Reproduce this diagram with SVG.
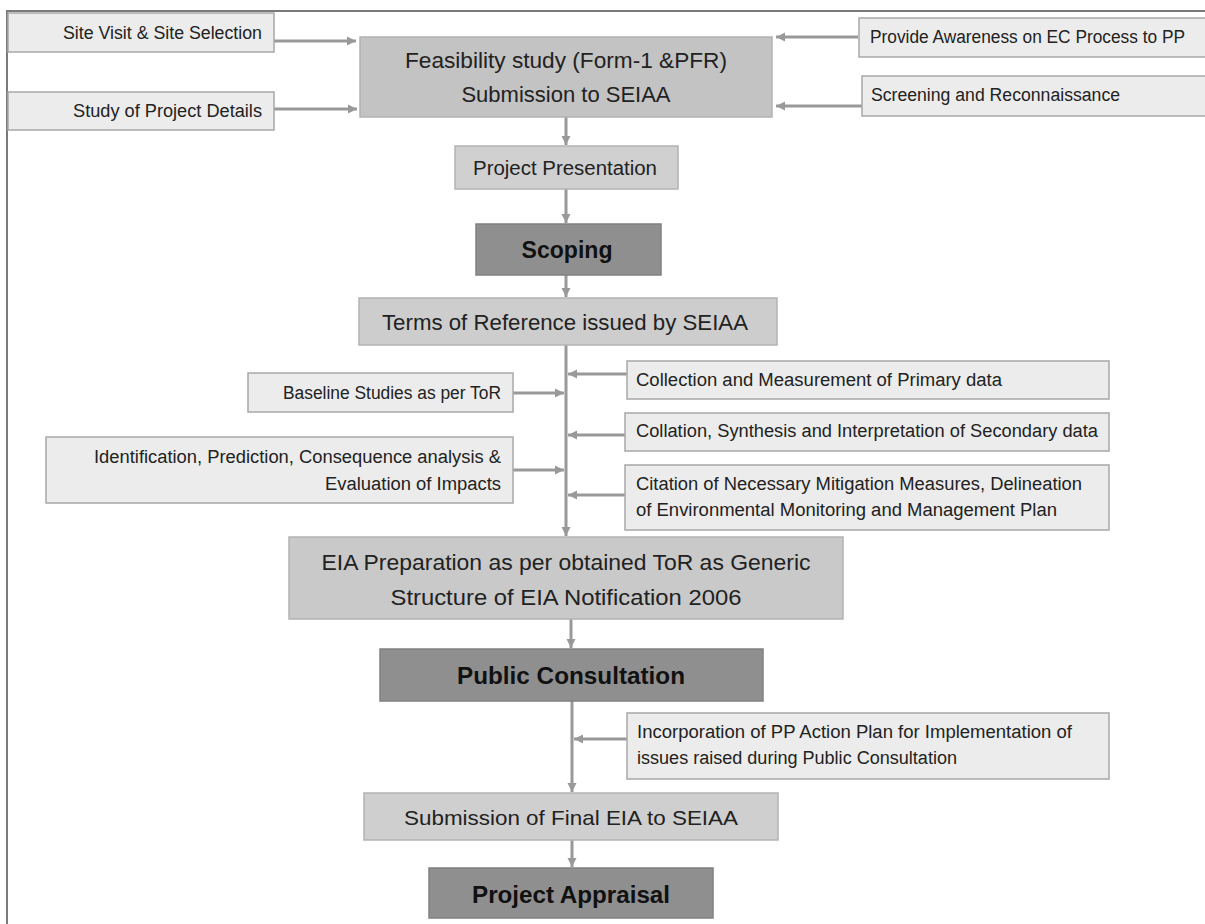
<svg xmlns="http://www.w3.org/2000/svg" width="1205" height="924" viewBox="0 0 1205 924">
<style>
.side{fill:#ececec;stroke:#a8a8a8;stroke-width:1.5}
.mid{fill:#c9c9c9;stroke:#b3b3b3;stroke-width:1.5}
.dark{fill:#8f8f8f;stroke:#808080;stroke-width:1.5}
text{font-family:"Liberation Sans",Arial,sans-serif;fill:#222}
.s{font-size:18px}
.m{font-size:22px}
.b{font-size:23px;font-weight:bold;fill:#111}
.c{text-anchor:middle}
.r{text-anchor:end}
.conn line{stroke:#999;stroke-width:3;marker-end:url(#ah)}
</style>
<defs>
<marker id="ah" markerUnits="userSpaceOnUse" markerWidth="10" markerHeight="10" refX="9" refY="5" orient="auto">
<path d="M0,0.5 L9,5 L0,9.5 z" fill="#999"/>
</marker>
</defs>
<rect width="1205" height="924" fill="#ffffff"/>
<path d="M7,924 V11 H1205" fill="none" stroke="#7a7a7a" stroke-width="2"/>

<g class="conn">
<line x1="274" y1="41" x2="356" y2="41"/>
<line x1="274" y1="109" x2="357" y2="109"/>
<line x1="858" y1="37" x2="776" y2="37"/>
<line x1="862" y1="106" x2="776" y2="106"/>
<line x1="566" y1="117" x2="566" y2="145"/>
<line x1="566" y1="189" x2="566" y2="223"/>
<line x1="566" y1="275" x2="566" y2="297"/>
<line x1="566" y1="345" x2="566" y2="536"/>
<line x1="513" y1="393" x2="564" y2="393"/>
<line x1="513" y1="470" x2="564" y2="470"/>
<line x1="627" y1="374" x2="568" y2="374"/>
<line x1="625" y1="435" x2="568" y2="435"/>
<line x1="625" y1="495" x2="568" y2="495"/>
<line x1="571" y1="619" x2="571" y2="648"/>
<line x1="572" y1="701" x2="572" y2="792"/>
<line x1="627" y1="739" x2="574" y2="739"/>
<line x1="572" y1="840" x2="572" y2="867"/>
</g>

<g id="site-visit">
<rect class="side" x="8" y="13" width="266" height="39"/>
<text class="s r" x="262" y="39" textLength="199" lengthAdjust="spacingAndGlyphs">Site Visit &amp; Site Selection</text>
</g>
<g id="study-details">
<rect class="side" x="8" y="92" width="266" height="38"/>
<text class="s r" x="262" y="117" textLength="189" lengthAdjust="spacingAndGlyphs">Study of Project Details</text>
</g>
<g id="awareness">
<rect class="side" x="859" y="18" width="350" height="39"/>
<text class="s" x="870" y="43" textLength="315" lengthAdjust="spacingAndGlyphs">Provide Awareness on EC Process to PP</text>
</g>
<g id="screening">
<rect class="side" x="862" y="76" width="347" height="40"/>
<text class="s" x="871" y="101" textLength="249" lengthAdjust="spacingAndGlyphs">Screening and Reconnaissance</text>
</g>
<g id="feasibility">
<rect class="mid" x="360" y="37" width="412" height="80" style="fill:#c3c3c3"/>
<text class="m c" x="566" y="68" textLength="322" lengthAdjust="spacingAndGlyphs">Feasibility study (Form-1 &amp;PFR)</text>
<text class="m c" x="566" y="102">Submission to SEIAA</text>
</g>
<g id="presentation">
<rect class="mid" x="455" y="146" width="223" height="43" style="fill:#d0d0d0"/>
<text class="c" x="565" y="175" style="font-size:20px" textLength="184" lengthAdjust="spacingAndGlyphs">Project Presentation</text>
</g>
<g id="scoping">
<rect class="dark" x="476" y="224" width="185" height="51"/>
<text class="b c" x="567" y="258" textLength="91" lengthAdjust="spacingAndGlyphs">Scoping</text>
</g>
<g id="tor">
<rect class="mid" x="359" y="298" width="418" height="47" style="fill:#cdcdcd"/>
<text class="m c" x="565" y="330" textLength="366" lengthAdjust="spacingAndGlyphs">Terms of Reference issued by SEIAA</text>
</g>
<g id="baseline">
<rect class="side" x="248" y="373" width="265" height="39"/>
<text class="s r" x="501" y="399" textLength="218" lengthAdjust="spacingAndGlyphs">Baseline Studies as per ToR</text>
</g>
<g id="identification">
<rect class="side" x="46" y="437" width="467" height="66"/>
<text class="s r" x="501" y="463" textLength="407" lengthAdjust="spacingAndGlyphs">Identification, Prediction, Consequence analysis &amp;</text>
<text class="s r" x="501" y="490" textLength="176" lengthAdjust="spacingAndGlyphs">Evaluation of Impacts</text>
</g>
<g id="collection">
<rect class="side" x="627" y="361" width="482" height="38"/>
<text class="s" x="636" y="386" textLength="366" lengthAdjust="spacingAndGlyphs">Collection and Measurement of Primary data</text>
</g>
<g id="collation">
<rect class="side" x="625" y="413" width="484" height="38"/>
<text class="s" x="636" y="437" textLength="462" lengthAdjust="spacingAndGlyphs">Collation, Synthesis and Interpretation of Secondary data</text>
</g>
<g id="citation">
<rect class="side" x="625" y="465" width="484" height="65"/>
<text class="s" x="636" y="490" textLength="446" lengthAdjust="spacingAndGlyphs">Citation of Necessary Mitigation Measures, Delineation</text>
<text class="s" x="636" y="516" textLength="421" lengthAdjust="spacingAndGlyphs">of Environmental Monitoring and Management Plan</text>
</g>
<g id="eia">
<rect class="mid" x="289" y="537" width="554" height="82"/>
<text class="m c" x="566" y="570" textLength="489" lengthAdjust="spacingAndGlyphs">EIA Preparation as per obtained ToR as Generic</text>
<text class="m c" x="566" y="605" textLength="351" lengthAdjust="spacingAndGlyphs">Structure of EIA Notification 2006</text>
</g>
<g id="public-consultation">
<rect class="dark" x="380" y="649" width="383" height="52"/>
<text class="b c" x="571" y="684" textLength="228" lengthAdjust="spacingAndGlyphs">Public Consultation</text>
</g>
<g id="incorporation">
<rect class="side" x="627" y="713" width="482" height="66"/>
<text class="s" x="637" y="738" textLength="435" lengthAdjust="spacingAndGlyphs">Incorporation of PP Action Plan for Implementation of</text>
<text class="s" x="637" y="764" textLength="320" lengthAdjust="spacingAndGlyphs">issues raised during Public Consultation</text>
</g>
<g id="submission">
<rect class="mid" x="364" y="793" width="414" height="47" style="fill:#cfcfcf"/>
<text class="c" x="571" y="825" style="font-size:21px" textLength="334" lengthAdjust="spacingAndGlyphs">Submission of Final EIA to SEIAA</text>
</g>
<g id="appraisal">
<rect class="dark" x="429" y="868" width="284" height="50"/>
<text class="b c" x="571" y="903" textLength="198" lengthAdjust="spacingAndGlyphs">Project Appraisal</text>
</g>
</svg>
